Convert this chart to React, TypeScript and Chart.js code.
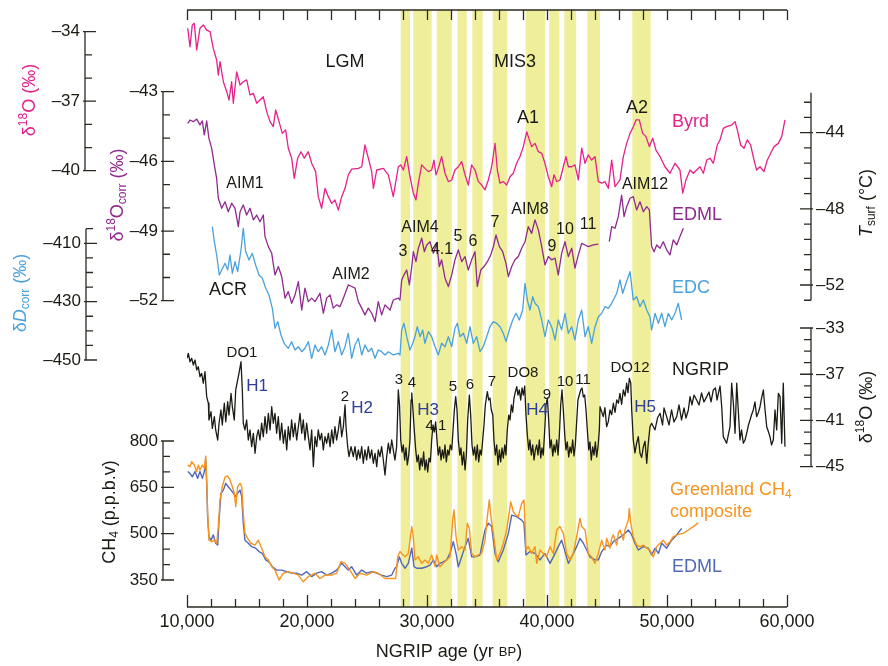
import { useEffect, useRef } from 'react';
import { Chart, registerables } from 'chart.js';

Chart.register(...registerables);

// ---------------- DATA (age in yr BP, values in native units) ----------------
const ageTicks = [10000, 20000, 30000, 40000, 50000, 60000];
const byrdTicks = [-34, -37, -40];
const edmlTicks = [-43, -46, -49, -52];
const edcTicks = [-410, -430, -450];
const ch4Ticks = [350, 500, 650, 800];
const tsurfTicks = [-44, -48, -52];
const ngripTicks = [-33, -37, -41, -45];

// Greenland stadials (yellow bands): [start, end] ages
const stadialBands: [number, number][] = [
  [27810, 28580], [28860, 30390], [30810, 32060], [32530, 33310], [33780, 34640],
  [35470, 36690], [38220, 39830], [40190, 41030], [41440, 42420], [43360, 44420], [47110, 48640],
];

// Byrd δ18O (‰)
const byrd: [number, number][] = [
  [10060,-33.85],[10250,-34.65],[10440,-33.71],[10610,-33.64],[10810,-34.79],[11080,-33.85],[11360,-33.71],[11640,-33.93],[11920,-34.0],[12190,-34.72],[12470,-35.22],[12610,-35.87],[12750,-35.29],[13030,-36.16],[13310,-36.59],[13500,-36.95],[13720,-36.16],[13860,-37.09],[14140,-35.73],[14420,-36.30],[14690,-36.16],[14970,-36.08],[15250,-36.73],[15530,-36.66],[15810,-37.09],[16080,-36.95],[16360,-36.81],[16640,-37.45],[16920,-37.88],[17190,-38.10],[17390,-37.38],[17670,-37.88],[17940,-38.39],[18220,-38.24],[18440,-39.03],[18720,-39.46],[18940,-40.33],[19220,-39.46],[19500,-39.18],[19780,-39.46],[20110,-39.18],[20390,-39.68],[20720,-40.04],[20940,-41.12],[21220,-41.62],[21500,-40.76],[21780,-41.12],[22060,-41.41],[22330,-41.26],[22610,-41.70],[22890,-41.12],[23170,-40.76],[23440,-40.18],[23720,-39.93],[24280,-39.90],[24560,-39.83],[24830,-38.89],[25110,-39.46],[25390,-40.04],[25530,-40.76],[25810,-39.97],[26360,-39.90],[26780,-40.18],[27190,-41.12],[27610,-39.83],
  [27810,-39.75],[28030,-39.97],[28310,-39.39],[28530,-40.11],[28860,-40.97],[29080,-41.26],[29280,-40.54],[29560,-39.75],[29830,-39.90],[30110,-40.04],[30390,-39.97],[30580,-39.54],[30750,-40.18],[30940,-39.90],[31220,-39.39],[31500,-40.11],[31780,-40.47],[32060,-40.40],[32330,-39.97],[32610,-39.83],[32890,-39.61],[33170,-40.18],[33440,-40.62],[33720,-39.75],[34000,-39.97],[34280,-40.47],[34560,-40.62],[34830,-40.83],[35110,-40.40],[35390,-39.83],[35670,-38.82],[35860,-39.97],[36080,-40.54],[36360,-40.47],[36640,-40.62],[36920,-40.26],[37190,-40.11],[37470,-39.68],[37750,-39.39],[38030,-38.96],[38310,-38.32],[38530,-38.67],[38720,-38.96],[39000,-38.82],[39280,-39.18],[39560,-39.25],[39830,-39.68],[40110,-40.26],[40390,-40.69],[40580,-40.18],[40810,-40.47],[41080,-40.40],[41360,-39.83],[41580,-39.39],[41780,-39.83],[42060,-39.83],[42330,-39.75],[42610,-40.40],[42890,-39.03],[43170,-39.68],[43440,-39.32],[43720,-39.54],[44000,-39.39],[44280,-40.47],[44560,-40.54],[44830,-40.47],[45110,-40.76],[45390,-39.54],[45670,-40.69],[46080,-40.40],[46360,-39.39],[46640,-38.82],[46920,-38.39],[47190,-38.10],[47420,-37.81],[47690,-37.81],[47970,-38.39],[48250,-38.53],[48530,-38.96],[48810,-38.60],[49080,-39.11],[49420,-39.39],[49830,-39.83],[50250,-40.11],[50670,-39.68],[51080,-39.97],
  [51310,-40.97],[51580,-40.40],[51920,-39.97],[52190,-40.11],[52470,-39.97],[52750,-39.83],[53030,-40.11],[53310,-39.54],[53580,-39.46],[53860,-39.68],[54190,-38.89],[54420,-38.67],[54690,-38.17],[54970,-38.10],[55390,-38.03],[55670,-37.88],[55860,-38.24],[56140,-38.89],[56420,-39.03],[56690,-38.67],[56970,-38.89],[57250,-39.54],[57470,-39.97],[57750,-39.83],[58080,-40.04],[58360,-39.54],[58640,-39.25],[58920,-38.96],[59280,-38.82],[59560,-38.53],[59830,-37.81],
];

// EDML δ18O corr (‰); null = gap in record
const edmlIso: [number, number | null][] = [
  [10060,-44.36],[10250,-44.22],[10530,-44.29],[10810,-44.18],[11080,-44.43],[11280,-44.26],[11440,-44.86],[11640,-44.26],[11830,-45.01],[12060,-45.44],[12280,-46.16],[12470,-46.73],[12610,-47.59],[12890,-48.02],[13170,-47.74],[13440,-48.17],[13720,-47.80],[14000,-48.02],[14280,-48.81],[14420,-48.17],[14690,-47.88],[14970,-48.31],[15250,-48.02],[15530,-48.52],[15810,-48.31],[16080,-48.60],[16360,-48.31],[16500,-49.24],[16780,-49.67],[17060,-49.96],[17330,-50.89],[17610,-50.53],[17890,-50.96],[18170,-51.89],[18440,-51.61],[18720,-52.11],[19000,-51.75],[19280,-51.18],[19560,-52.40],[19830,-51.46],[20110,-52.04],[20390,-51.89],[20670,-52.04],[21080,-51.68],[21360,-52.54],[21640,-51.89],[21920,-51.75],[22190,-52.32],[22470,-52.18],[22750,-52.26],[23030,-51.89],[23440,-51.32],[23720,-51.39],[24000,-51.46],[24280,-52.04],[24560,-52.32],[24830,-52.61],[25110,-52.32],[25390,-52.54],[25670,-52.90],[25940,-52.04],[26220,-52.61],[26500,-52.18],[26920,-52.40],[27190,-51.97],[27610,-51.89],
  [27750,-51.97],[27890,-51.11],[28080,-50.89],[28310,-50.68],[28530,-51.32],[28730,-50.53],[28860,-49.89],[29080,-50.32],[29280,-49.74],[29560,-49.31],[29780,-49.89],[29980,-49.60],[30250,-49.46],[30530,-49.96],[30810,-49.53],[31030,-50.53],[31220,-50.24],[31500,-51.03],[31780,-51.39],[32060,-50.89],[32330,-50.24],[32610,-49.81],[32890,-50.32],[33170,-50.10],[33440,-50.68],[33720,-50.24],[34000,-49.89],[34190,-51.39],[34480,-50.68],[34750,-50.53],[35030,-50.32],[35310,-50.03],[35530,-49.67],[35750,-49.17],[36030,-49.67],[36310,-49.89],[36580,-50.39],[36780,-50.96],[37060,-50.53],[37330,-50.24],[37610,-50.10],[37890,-49.74],[38170,-49.46],[38440,-48.81],[38720,-49.10],[39000,-48.52],[39280,-48.95],[39560,-49.67],[39830,-50.46],[40110,-50.10],[40390,-50.24],[40670,-50.17],[40940,-50.89],[41220,-49.96],[41500,-49.46],[41780,-50.10],[42060,-49.74],[42330,-50.60],[42610,-50.03],[42890,-49.53],[43170,-49.60],[43440,-49.67],[43860,-49.60],[44280,-49.56],[44700,null],
  [45190,-49.46],[45390,-48.81],[45670,-48.88],[45940,-48.38],[46220,-47.45],[46420,-48.38],[46640,-47.95],[46920,-47.59],[47190,-47.52],[47470,-48.09],[47750,-47.74],[48030,-48.17],[48310,-47.95],[48530,-48.09],[48720,-49.67],[48920,-49.89],[49140,-49.60],[49420,-49.74],[49690,-49.46],[49970,-49.81],[50250,-50.03],[50520,-49.38],[50810,-49.60],[51080,-49.24],[51360,-48.88],
];

// EDC δD corr (‰)
const edc: [number, number][] = [
  [12110,-404.31],[12280,-409.45],[12470,-414.01],[12690,-420.86],[12890,-419.15],[13170,-416.85],[13390,-419.15],[13580,-414.01],[13780,-420.28],[14000,-416.31],[14220,-419.73],[14500,-412.30],[14690,-404.86],[14890,-412.88],[15170,-415.72],[15440,-413.43],[15720,-417.44],[16000,-420.86],[16280,-421.99],[16560,-425.42],[16830,-427.72],[17110,-432.28],[17330,-439.13],[17560,-436.87],[17830,-441.43],[18110,-444.41],[18440,-446.00],[18720,-443.72],[19000,-446.57],[19280,-445.44],[19560,-447.15],[19830,-445.98],[20110,-443.72],[20390,-449.41],[20670,-444.85],[20940,-447.15],[21220,-445.44],[21500,-448.28],[21780,-444.85],[22060,-439.71],[22330,-447.15],[22610,-443.72],[22890,-448.28],[23170,-445.44],[23440,-440.84],[23720,-449.41],[24000,-444.85],[24280,-442.56],[24560,-448.28],[24830,-444.85],[25110,-447.15],[25390,-445.98],[25670,-449.41],[25940,-446.57],[26220,-447.15],[26500,-448.28],[26780,-447.15],[27190,-448.28],[27610,-447.70],
  [27750,-448.28],[27890,-439.71],[28080,-437.42],[28310,-442.01],[28580,-446.57],[28810,-444.27],[29000,-442.01],[29190,-438.58],[29420,-442.01],[29640,-439.71],[29830,-444.27],[30110,-440.29],[30390,-442.01],[30670,-445.44],[30940,-448.28],[31220,-444.27],[31500,-445.44],[31780,-442.01],[32060,-445.44],[32330,-439.13],[32530,-437.42],[32750,-442.01],[33030,-440.84],[33310,-444.27],[33580,-438.58],[33860,-444.27],[34140,-442.01],[34420,-447.15],[34690,-445.44],[34970,-442.01],[35250,-438.58],[35530,-436.87],[35810,-437.42],[36080,-438.58],[36360,-440.84],[36580,-443.72],[36860,-439.71],[37140,-436.29],[37420,-433.99],[37690,-436.29],[37970,-432.86],[38170,-423.71],[38360,-429.43],[38580,-432.86],[38810,-428.30],[39000,-430.56],[39280,-431.73],[39560,-436.29],[39830,-442.01],[40110,-436.29],[40390,-438.58],[40670,-443.14],[40940,-436.29],[41220,-439.71],[41500,-433.99],[41780,-440.84],[42060,-438.58],[42330,-443.14],[42610,-436.29],[42890,-432.86],[43170,-442.01],[43440,-438.58],[43720,-444.27],[44000,-438.58],[44280,-435.15],[44560,-433.99],[44830,-431.73],[45110,-432.28],[45390,-430.56],[45810,-427.14],[46080,-422.58],[46310,-427.14],[46580,-423.71],[46920,-419.73],[47190,-429.43],[47470,-428.30],[47750,-431.73],[48030,-429.43],[48310,-432.86],[48580,-435.15],[48720,-439.71],[49000,-433.99],[49280,-437.42],[49560,-433.99],[49830,-438.58],[50110,-433.99],[50390,-436.29],[50670,-433.99],[50940,-430.56],[51220,-436.29],
];

// NGRIP δ18O (‰)
const ngrip: [number, number][] = [
  [10000,-35.62],[10110,-35.19],[10250,-35.92],[10390,-35.62],[10530,-36.20],[10670,-35.77],[10810,-36.63],[10940,-36.35],[11080,-37.21],[11220,-36.92],[11360,-37.78],[11500,-36.78],[11640,-38.94],[11780,-39.51],[11830,-40.96],[12000,-40.24],[12110,-41.68],[12280,-40.67],[12390,-41.82],[12560,-42.69],[12670,-41.24],[12830,-40.09],[12940,-41.39],[13110,-39.51],[13230,-41.11],[13390,-39.38],[13500,-40.53],[13670,-38.65],[13780,-39.81],[13940,-40.96],[14060,-38.36],[14220,-37.50],[14330,-36.92],[14500,-35.92],[14610,-38.36],[14690,-41.24],[14830,-41.82],[14970,-40.96],[15110,-42.69],[15250,-41.82],[15390,-43.27],[15530,-42.11],[15670,-43.84],[15810,-42.40],[15940,-41.82],[16080,-42.69],[16220,-41.24],[16360,-42.40],[16500,-40.67],[16640,-42.11],[16780,-40.38],[16920,-41.82],[17060,-39.81],[17190,-41.24],[17330,-40.38],[17470,-42.11],[17610,-40.67],[17750,-42.69],[17890,-41.24],[18030,-42.97],[18170,-41.82],[18310,-43.55],[18440,-41.54],[18580,-42.69],[18720,-40.96],[18860,-42.40],[19000,-41.24],[19140,-42.69],[19280,-41.54],[19420,-40.38],[19560,-42.11],[19690,-40.96],[19830,-42.69],[19970,-41.24],[20110,-42.40],[20250,-43.55],[20390,-41.82],[20530,-45.00],[20670,-42.40],[20810,-43.27],[20940,-41.82],[21080,-42.69],[21220,-42.11],[21360,-43.55],[21500,-42.40],[21640,-42.97],[21780,-42.11],[21920,-43.27],[22060,-41.82],[22190,-42.97],[22330,-41.54],[22470,-42.69],[22610,-41.82],[22750,-40.67],[22890,-42.40],[23030,-41.54],[23170,-39.66],[23250,-41.54],[23390,-43.27],[23500,-44.13],[23670,-43.27],[23860,-44.13],[24000,-43.27],[24140,-44.42],[24280,-43.55],[24420,-44.27],[24560,-43.27],[24690,-44.70],[24830,-43.55],[24970,-44.42],[25110,-43.27],[25250,-44.27],[25390,-43.55],[25530,-44.70],[25670,-43.84],[25810,-45.00],[25940,-43.55],[26080,-44.13],[26220,-43.27],[26360,-44.42],[26500,-45.72],[26640,-44.13],[26780,-42.97],[26920,-43.84],[27060,-42.69],[27190,-43.55],[27330,-44.42],[27470,-43.27],[27610,-38.36],
  [27710,-39.66],[27810,-42.69],[27920,-43.73],[28030,-43.12],[28140,-44.42],[28250,-43.38],[28360,-44.85],[28480,-43.99],[28580,-42.69],[28670,-39.23],[28730,-38.62],[28830,-40.09],[28940,-41.82],[29060,-43.55],[29170,-44.59],[29280,-43.99],[29390,-45.28],[29500,-44.25],[29610,-44.94],[29720,-43.73],[29830,-45.28],[29940,-44.42],[30060,-45.46],[30170,-44.25],[30280,-44.59],[30390,-42.69],[30500,-41.39],[30610,-42.00],[30720,-41.13],[30830,-42.69],[30940,-43.99],[31060,-43.29],[31170,-44.42],[31280,-43.55],[31390,-44.25],[31500,-43.12],[31610,-44.59],[31730,-43.55],[31830,-43.99],[31940,-43.12],[32060,-43.55],[32170,-41.82],[32280,-40.09],[32390,-38.94],[32500,-40.09],[32610,-42.69],[32730,-43.99],[32830,-43.38],[32940,-44.85],[33060,-43.73],[33170,-45.28],[33280,-43.99],[33390,-40.96],[33530,-38.80],[33640,-40.53],[33750,-43.12],[33860,-43.99],[33970,-43.29],[34080,-44.42],[34190,-43.12],[34310,-44.59],[34420,-43.55],[34530,-43.99],[34640,-42.69],[34750,-41.39],[34860,-39.66],[35030,-38.51],[35140,-39.23],[35250,-39.06],[35360,-40.09],[35480,-40.53],[35580,-42.69],[35690,-43.99],[35810,-43.12],[35920,-44.85],[36030,-43.55],[36140,-44.59],[36250,-43.38],[36360,-44.25],[36480,-43.12],[36580,-43.99],[36690,-41.82],[36810,-40.53],[36920,-40.96],[37030,-39.66],[37140,-40.27],[37250,-39.06],[37360,-38.54],[37480,-38.08],[37580,-38.80],[37690,-38.36],[37810,-39.23],[37920,-38.19],[38030,-38.80],[38140,-38.02],[38250,-40.53],[38360,-42.26],[38480,-43.55],[38580,-42.69],[38690,-43.99],[38810,-43.12],[38920,-44.42],[39030,-43.55],[39140,-43.12],[39250,-43.99],[39360,-42.69],[39480,-44.25],[39580,-43.38],[39690,-43.99],[39810,-41.82],[39920,-39.66],[40030,-39.06],[40140,-40.96],[40250,-43.38],[40360,-42.69],[40480,-44.07],[40580,-43.12],[40690,-43.73],[40810,-42.69],[40920,-43.99],[41030,-42.26],[41140,-39.66],[41250,-38.36],[41360,-40.09],[41480,-42.26],[41580,-43.55],[41690,-42.86],[41810,-44.16],[41920,-43.29],[42030,-43.81],[42140,-42.69],[42250,-44.07],[42360,-43.12],[42480,-40.96],[42580,-39.23],[42690,-38.80],[42810,-38.36],[42920,-38.19],[43030,-38.97],[43140,-38.80],[43250,-40.09],[43360,-41.82],[43480,-43.55],[43580,-42.86],[43690,-44.42],[43810,-43.29],[43920,-43.99],[44030,-42.86],[44140,-44.16],[44250,-43.29],[44360,-41.82],
  [44420,-39.81],[44690,-40.67],[44830,-39.9],[44970,-41.54],[45110,-41.1],[45250,-40.09],[45390,-40.5],[45530,-39.51],[45670,-40.3],[45810,-39.23],[45950,-39.5],[46080,-38.65],[46220,-39.6],[46360,-38.36],[46500,-38.9],[46640,-37.78],[46750,-38.6],[46860,-37.35],[46980,-37.78],[47060,-40.09],[47190,-42.69],[47330,-43.8],[47470,-42.97],[47610,-42.4],[47750,-43.84],[47890,-44.2],[48030,-43.27],[48170,-42.8],[48310,-44.70],[48440,-42.97],[48580,-41.54],[48720,-41.24],
  [49000,-41.82],[49210,-40.79],[49420,-40.38],[49630,-41.39],[49750,-39.92],[49970,-40.67],[50170,-41.39],[50380,-40.09],[50580,-41.13],[50810,-40.67],[51000,-39.66],[51210,-40.96],[51420,-39.92],[51580,-40.79],[51780,-40.09],[51920,-38.94],[52080,-39.66],[52250,-38.80],[52470,-39.23],[52670,-39.66],[52880,-38.62],[53080,-39.40],[53310,-38.94],[53500,-38.54],[53670,-39.40],[53860,-38.36],[54040,-38.19],[54170,-39.23],[54280,-38.65],[54420,-38.02],[54560,-39.81],[54690,-42.40],[54970,-42.97],[55250,-41.54],[55390,-37.78],[55530,-39.51],[55670,-42.11],[55810,-37.78],[55940,-40.09],[56080,-42.69],[56210,-41.82],[56360,-42.97],[56500,-42.69],[56640,-42.11],[56790,-41.39],[56920,-40.96],[57040,-40.53],[57190,-40.09],[57330,-39.40],[57470,-40.67],[57630,-40.27],[57750,-39.81],[57880,-39.06],[58030,-38.36],[58170,-40.09],[58310,-41.54],[58460,-42.00],[58580,-42.40],[58710,-43.12],[58860,-42.69],[59000,-40.09],[59140,-41.82],[59280,-38.65],[59420,-38.94],[59560,-42.97],[59690,-37.78],[59830,-43.27],
];

// Greenland CH4 composite (p.p.b.v)
const ch4Greenland: [number, number][] = [
  [10060,722],[10250,717],[10390,733],[10610,722],[10810,701],[10940,722],[11080,706],[11280,722],[11440,712],[11560,751],[11640,674],[11720,566],[11830,479],[12060,474],[12280,479],[12470,469],[12610,523],[12750,609],[12940,652],[13170,684],[13390,687],[13580,674],[13780,652],[13940,631],[14060,587],[14220,652],[14420,663],[14560,652],[14690,566],[14830,501],[15060,485],[15330,469],[15670,463],[15940,479],[16220,453],[16500,425],[16780,415],[17060,393],[17330,382],[17670,350],[18030,372],[18440,377],[18860,372],[19280,366],[19690,344],[20110,361],[20670,372],[21080,355],[21500,366],[22060,366],[22470,372],[22830,409],[23170,404],[23580,382],[24000,355],[24420,372],[24970,366],[25530,377],[25940,372],[26500,355],[27060,355],[27390,355],[27560,425],[27750,442],
  [27890,436],[28170,425],[28440,436],[28730,523],[28860,490],[29000,415],[29280,425],[29560,404],[29830,415],[30110,404],[30390,431],[30670,393],[30810,431],[31080,393],[31360,404],[31640,415],[31920,425],[32140,544],[32250,577],[32420,490],[32610,447],[32890,458],[33170,447],[33360,534],[33530,517],[33720,436],[34000,425],[34280,431],[34560,436],[34830,479],[35030,555],[35190,609],[35330,555],[35530,501],[35810,415],[36080,436],[36360,469],[36640,512],[36980,603],[37190,571],[37420,560],[37610,555],[37890,598],[38080,609],[38170,534],[38250,447],[38440,458],[38720,436],[39000,458],[39140,404],[39420,447],[39690,436],[39970,425],[40250,458],[40530,436],[40810,512],[41080,523],[41360,501],[41640,436],[41920,415],[42190,436],[42470,490],[42750,550],[42890,523],[43170,512],[43440,436],[43720,425],[44000,404],[44280,436],[44560,479],[44690,463],[44830,447],[44970,485],[45110,469],[45250,453],[45390,485],[45530,496],[45670,479],[45810,463],[45940,501],[46080,512],[46220,496],[46360,479],[46500,512],[46640,528],[46780,544],[46860,582],[46980,534],[47190,490],[47470,463],[47750,458],[48030,463],[48310,453],[48580,447],[48860,425],[49140,458],[49420,469],[49690,479],[49970,463],[50250,474],[50520,490],[50810,496],[51360,501],[51780,512],[52190,523],[52610,535],
];

// EDML CH4 (p.p.b.v)
const ch4Edml: [number, number][] = [
  [10060,701],[10250,695],[10440,684],[10670,701],[10890,679],[11080,701],[11280,679],[11440,701],[11560,738],[11640,663],[11720,555],[11830,490],[12000,479],[12190,496],[12390,469],[12560,463],[12670,544],[12830,631],[13030,641],[13230,663],[13440,652],[13670,641],[13860,631],[14060,620],[14220,631],[14420,641],[14560,620],[14690,534],[14830,479],[15110,469],[15390,458],[15720,453],[16000,442],[16280,436],[16560,415],[16830,409],[17110,393],[17470,382],[17890,382],[18310,377],[18720,372],[19140,372],[19560,366],[19970,377],[20390,361],[20810,372],[21220,377],[21640,366],[22060,372],[22470,382],[22890,404],[23170,393],[23440,382],[23720,393],[24140,366],[24560,382],[24970,372],[25390,377],[25810,372],[26220,366],[26640,361],[27060,366],[27330,388],[27470,393],[27690,425],[27890,404],[28170,388],[28440,404],[28730,453],[28920,393],[29140,388],[29560,388],[29980,393],[30250,398],[30530,415],[30810,393],[31080,404],[31360,409],[31640,415],[31920,436],[32190,474],[32420,436],[32610,393],[32890,425],[33170,458],[33440,485],[33720,425],[34000,425],[34420,431],[34830,512],[35110,534],[35390,523],[35670,436],[35940,409],[36360,447],[36780,501],[37060,560],[37470,555],[37890,544],[38080,534],[38250,431],[38580,442],[39000,436],[39420,415],[39830,436],[40250,404],[40530,425],[40940,458],[41220,479],[41500,442],[41780,404],[42060,425],[42470,458],[42750,485],[43030,469],[43310,447],[43580,425],[44000,415],[44280,415],[44560,442],[44970,463],[45250,458],[45530,474],[45940,485],[46360,496],[46780,512],[47060,496],[47330,469],[47610,447],[48030,458],[48440,453],[48720,431],[49000,453],[49280,436],[49560,469],[49970,453],[50390,479],[50810,496],[51220,517],
];

// ---------------- STYLE / LAYOUT ----------------
const FF = '"Liberation Sans", Arial, Helvetica, sans-serif';
const PINK = '#e6218a';
const PURPLE = '#8f2a8e';
const LBLUE = '#4aa1dd';
const BLACK = '#1b1b14';
const ORANGE = '#f7941e';
const BLUE = '#5068b8';
const HBLUE = '#2d3d9a';
const AXIS = '#2a2a22';
const BAND = 'rgb(238,238,155)';

const AREA = { left: 187, top: 10, right: 787, bottom: 607 };

// place a value range so that two anchor values fall at two pixel rows
function fitScale(v1: number, p1: number, v2: number, p2: number) {
  const k = (v1 - v2) / (p2 - p1);
  return { min: v1 - (AREA.bottom - p1) * k, max: v1 + (p1 - AREA.top) * k };
}

type Part = { t: string; size?: number; dy?: number; italic?: boolean };
function drawRich(ctx: CanvasRenderingContext2D, parts: Part[], x: number, y: number, color: string, base: number, align: 'center' | 'left' = 'center', rotate = false) {
  ctx.save();
  ctx.translate(x, y);
  if (rotate) ctx.rotate(-Math.PI / 2);
  ctx.fillStyle = color;
  ctx.textBaseline = 'middle';
  ctx.textAlign = 'left';
  const fonts = parts.map((p) => `${p.italic ? 'italic ' : ''}${p.size ?? base}px ${FF}`);
  const widths = parts.map((p, i) => { ctx.font = fonts[i]; return ctx.measureText(p.t).width; });
  const total = widths.reduce((a, b) => a + b, 0);
  let cx = align === 'center' ? -total / 2 : 0;
  parts.forEach((p, i) => { ctx.font = fonts[i]; ctx.fillText(p.t, cx, p.dy ?? 0); cx += widths[i]; });
  ctx.restore();
}

const SUP = (t: string): Part => ({ t, size: 12, dy: -6 });
const SUB = (t: string): Part => ({ t, size: 12, dy: 5 });

const annotations: { parts: Part[]; x: number; y: number; color: string; size: number; align?: 'center' | 'left' }[] = [
  { parts: [{ t: 'LGM' }], x: 345, y: 62, color: BLACK, size: 18 },
  { parts: [{ t: 'MIS3' }], x: 515, y: 62, color: BLACK, size: 18 },
  { parts: [{ t: 'A1' }], x: 528, y: 118, color: BLACK, size: 18 },
  { parts: [{ t: 'A2' }], x: 637, y: 108, color: BLACK, size: 18 },
  { parts: [{ t: 'Byrd' }], x: 672, y: 122, color: PINK, size: 18, align: 'left' },
  { parts: [{ t: 'EDML' }], x: 672, y: 215, color: PURPLE, size: 18, align: 'left' },
  { parts: [{ t: 'EDC' }], x: 672, y: 288, color: LBLUE, size: 18, align: 'left' },
  { parts: [{ t: 'NGRIP' }], x: 672, y: 370, color: BLACK, size: 18, align: 'left' },
  { parts: [{ t: 'Greenland CH' }, SUB('4')], x: 670, y: 490, color: ORANGE, size: 18, align: 'left' },
  { parts: [{ t: 'composite' }], x: 670, y: 512, color: ORANGE, size: 18, align: 'left' },
  { parts: [{ t: 'EDML' }], x: 672, y: 567, color: BLUE, size: 18, align: 'left' },
  { parts: [{ t: 'AIM1' }], x: 245, y: 184, color: BLACK, size: 16 },
  { parts: [{ t: 'AIM2' }], x: 351, y: 275, color: BLACK, size: 16 },
  { parts: [{ t: 'ACR' }], x: 228, y: 290, color: BLACK, size: 18 },
  { parts: [{ t: 'AIM4' }], x: 420, y: 228, color: BLACK, size: 16 },
  { parts: [{ t: '3' }], x: 403, y: 252, color: BLACK, size: 16 },
  { parts: [{ t: '4.1' }], x: 442, y: 250, color: BLACK, size: 16 },
  { parts: [{ t: '5' }], x: 458, y: 237, color: BLACK, size: 16 },
  { parts: [{ t: '6' }], x: 473, y: 242, color: BLACK, size: 16 },
  { parts: [{ t: '7' }], x: 495, y: 223, color: BLACK, size: 16 },
  { parts: [{ t: 'AIM8' }], x: 530, y: 210, color: BLACK, size: 16 },
  { parts: [{ t: '9' }], x: 552, y: 247, color: BLACK, size: 16 },
  { parts: [{ t: '10' }], x: 565, y: 230, color: BLACK, size: 16 },
  { parts: [{ t: '11' }], x: 588, y: 225, color: BLACK, size: 16 },
  { parts: [{ t: 'AIM12' }], x: 645, y: 185, color: BLACK, size: 16 },
  { parts: [{ t: 'DO1' }], x: 242, y: 353, color: BLACK, size: 15 },
  { parts: [{ t: 'H1' }], x: 257, y: 386, color: HBLUE, size: 17 },
  { parts: [{ t: '2' }], x: 345, y: 397, color: BLACK, size: 15 },
  { parts: [{ t: 'H2' }], x: 362, y: 408, color: HBLUE, size: 17 },
  { parts: [{ t: '3' }], x: 399, y: 380, color: BLACK, size: 15 },
  { parts: [{ t: '4' }], x: 412, y: 383, color: BLACK, size: 15 },
  { parts: [{ t: 'H3' }], x: 428, y: 410, color: HBLUE, size: 17 },
  { parts: [{ t: '4.1' }], x: 436, y: 426, color: BLACK, size: 15 },
  { parts: [{ t: '5' }], x: 453, y: 387, color: BLACK, size: 15 },
  { parts: [{ t: '6' }], x: 470, y: 385, color: BLACK, size: 15 },
  { parts: [{ t: '7' }], x: 492, y: 382, color: BLACK, size: 15 },
  { parts: [{ t: 'DO8' }], x: 523, y: 373, color: BLACK, size: 15 },
  { parts: [{ t: '9' }], x: 547, y: 395, color: BLACK, size: 15 },
  { parts: [{ t: 'H4' }], x: 537, y: 410, color: HBLUE, size: 17 },
  { parts: [{ t: '10' }], x: 565, y: 382, color: BLACK, size: 15 },
  { parts: [{ t: '11' }], x: 583, y: 380, color: BLACK, size: 15 },
  { parts: [{ t: 'DO12' }], x: 630, y: 368, color: BLACK, size: 15 },
  { parts: [{ t: 'H5' }], x: 645, y: 407, color: HBLUE, size: 17 },
];

type AxisSpec = { id: string; x: number; side: 1 | -1; top: number; bottom: number; first: number; step: number; labels: number[]; title: Part[]; tx: number; ty: number; color: string };
const axisSpecs: AxisSpec[] = [
  { id: 'yByrd', x: 85, side: -1, top: -34, bottom: -40, first: -40, step: 1, labels: byrdTicks, title: [{ t: 'δ' }, SUP('18'), { t: 'O (‰)' }], tx: 30, ty: 100, color: PINK },
  { id: 'yEdml', x: 163, side: -1, top: -43, bottom: -52, first: -52, step: 1, labels: edmlTicks, title: [{ t: 'δ' }, SUP('18'), { t: 'O' }, SUB('corr'), { t: ' (‰)' }], tx: 118, ty: 195, color: PURPLE },
  { id: 'yEdc', x: 86, side: -1, top: -405, bottom: -450, first: -450, step: 5, labels: edcTicks, title: [{ t: 'δ' }, { t: 'D', italic: true }, SUB('corr'), { t: ' (‰)' }], tx: 21, ty: 293, color: LBLUE },
  { id: 'yCh4', x: 163, side: -1, top: 800, bottom: 350, first: 350, step: 50, labels: ch4Ticks, title: [{ t: 'CH' }, SUB('4'), { t: ' (p.p.b.v)' }], tx: 110, ty: 512, color: BLACK },
  { id: 'yTsurf', x: 811, side: 1, top: -41.9, bottom: -52.8, first: -52.8, step: 0.8, labels: tsurfTicks, title: [{ t: 'T', italic: true }, SUB('surf'), { t: ' (°C)' }], tx: 867, ty: 203, color: BLACK },
  { id: 'yNgrip', x: 811, side: 1, top: -33, bottom: -45, first: -45, step: 1, labels: ngripTicks, title: [{ t: 'δ' }, SUP('18'), { t: 'O (‰)' }], tx: 867, ty: 407, color: BLACK },
];

const fmt = (v: number) => (v < 0 ? '–' + Math.abs(v) : String(v));

const decorPlugin = {
  id: 'decor',
  beforeDraw(chart: any) {
    const ctx = chart.ctx as CanvasRenderingContext2D;
    ctx.save();
    ctx.fillStyle = '#ffffff';
    ctx.fillRect(0, 0, chart.width, chart.height);
    ctx.restore();
  },
  beforeDatasetsDraw(chart: any) {
    const ctx = chart.ctx as CanvasRenderingContext2D;
    const xs = chart.scales.x;
    const { top, bottom } = chart.chartArea;
    ctx.save();
    ctx.fillStyle = BAND;
    stadialBands.forEach(([a, b]) => {
      const x1 = xs.getPixelForValue(a);
      const x2 = xs.getPixelForValue(b);
      ctx.fillRect(x1, top, x2 - x1, bottom - top);
    });
    ctx.restore();
  },
  afterDatasetsDraw(chart: any) {
    const ctx = chart.ctx as CanvasRenderingContext2D;
    const xs = chart.scales.x;
    const { left, right, top, bottom } = chart.chartArea;
    ctx.save();
    ctx.strokeStyle = AXIS;
    ctx.lineWidth = 1.3;
    ctx.lineCap = 'butt';
    // x axes: bottom and top
    ctx.beginPath();
    ctx.moveTo(left, bottom); ctx.lineTo(right, bottom);
    ctx.moveTo(left, top); ctx.lineTo(right, top);
    for (let a = xs.min; a <= xs.max + 1; a += 2000) {
      const px = Math.round(xs.getPixelForValue(a)) + 0.5;
      const major = ageTicks.includes(a);
      ctx.moveTo(px, bottom); ctx.lineTo(px, bottom - (major ? 12 : 8));
      ctx.moveTo(px, top); ctx.lineTo(px, top + 10);
    }
    ctx.stroke();
    ctx.fillStyle = BLACK;
    ctx.font = `18px ${FF}`;
    ctx.textAlign = 'center';
    ctx.textBaseline = 'middle';
    ageTicks.forEach((a) => ctx.fillText(a.toLocaleString('en-US'), xs.getPixelForValue(a), 622));
    drawRich(ctx, [{ t: 'NGRIP age (yr ' }, { t: 'BP', size: 13 }, { t: ')' }], 449, 652, BLACK, 18);

    // y axes
    axisSpecs.forEach((s) => {
      const sc = chart.scales[s.id];
      const yTop = sc.getPixelForValue(s.top);
      const yBot = sc.getPixelForValue(s.bottom);
      ctx.strokeStyle = AXIS;
      ctx.lineWidth = 1.3;
      ctx.beginPath();
      ctx.moveTo(s.x, yTop); ctx.lineTo(s.x, yBot);
      const n = Math.floor((s.top - s.first) / s.step + 1e-6);
      for (let k = 0; k <= n; k++) {
        const v = s.first + k * s.step;
        const py = sc.getPixelForValue(v);
        const major = s.labels.some((l) => Math.abs(l - v) < 1e-6);
        const len = major ? 11 : 7;
        ctx.moveTo(s.x + (major ? s.side * 2 : 0), py); ctx.lineTo(s.x - s.side * len, py);
      }
      ctx.stroke();
      ctx.fillStyle = BLACK;
      ctx.font = `17px ${FF}`;
      ctx.textBaseline = 'middle';
      ctx.textAlign = s.side < 0 ? 'right' : 'left';
      s.labels.forEach((l) => ctx.fillText(fmt(l), s.x + s.side * 5, sc.getPixelForValue(l)));
      drawRich(ctx, s.title, s.tx, s.ty, s.color, 18, 'center', true);
    });

    annotations.forEach((a) => drawRich(ctx, a.parts, a.x, a.y, a.color, a.size, a.align ?? 'center'));
    ctx.restore();
  },
};

function series(data: [number, number | null][], yAxisID: string, color: string, width: number) {
  return {
    data: data.map(([x, y]) => ({ x, y })),
    yAxisID,
    borderColor: color,
    borderWidth: width,
    pointRadius: 0,
    tension: 0,
    spanGaps: false,
    fill: false,
    borderJoinStyle: 'round' as const,
  };
}

export default function App() {
  const ref = useRef<HTMLCanvasElement | null>(null);
  useEffect(() => {
    if (!ref.current) return;
    const yb = fitScale(-34, 31.7, -40, 170.7);
    const ye = fitScale(-43, 91.7, -52, 300.7);
    const yd = fitScale(-410, 243.3, -450, 360);
    const yn = fitScale(-33, 328, -45, 466.7);
    const yc = fitScale(800, 441, 350, 580);
    const yt = fitScale(-44, 132.7, -52, 285);
    const hidden = (r: { min: number; max: number }) => ({ type: 'linear' as const, display: false, min: r.min, max: r.max });
    const chart = new Chart(ref.current, {
      type: 'line',
      data: {
        datasets: [
          series(byrd, 'yByrd', PINK, 1.3),
          series(edmlIso, 'yEdml', PURPLE, 1.3),
          series(edc, 'yEdc', LBLUE, 1.3),
          series(ngrip, 'yNgrip', BLACK, 1.3),
          series(ch4Greenland, 'yCh4', ORANGE, 1.4),
          series(ch4Edml, 'yCh4', BLUE, 1.4),
        ] as any,
      },
      options: {
        responsive: false,
        animation: false,
        devicePixelRatio: 1,
        layout: { padding: { left: AREA.left, right: 888 - AREA.right, top: AREA.top, bottom: 666 - AREA.bottom } },
        plugins: { legend: { display: false }, tooltip: { enabled: false } },
        events: [],
        scales: {
          x: { type: 'linear', display: false, min: 10000, max: 60000 },
          yByrd: hidden(yb),
          yEdml: hidden(ye),
          yEdc: hidden(yd),
          yNgrip: hidden(yn),
          yCh4: hidden(yc),
          yTsurf: hidden(yt),
        },
      },
      plugins: [decorPlugin],
    });
    return () => chart.destroy();
  }, []);
  return (
    <div style={{ position: 'absolute', left: 0, top: 0, width: 888, height: 666, background: '#fff' }}>
      <canvas ref={ref} width={888} height={666} style={{ display: 'block', width: 888, height: 666 }} />
    </div>
  );
}
